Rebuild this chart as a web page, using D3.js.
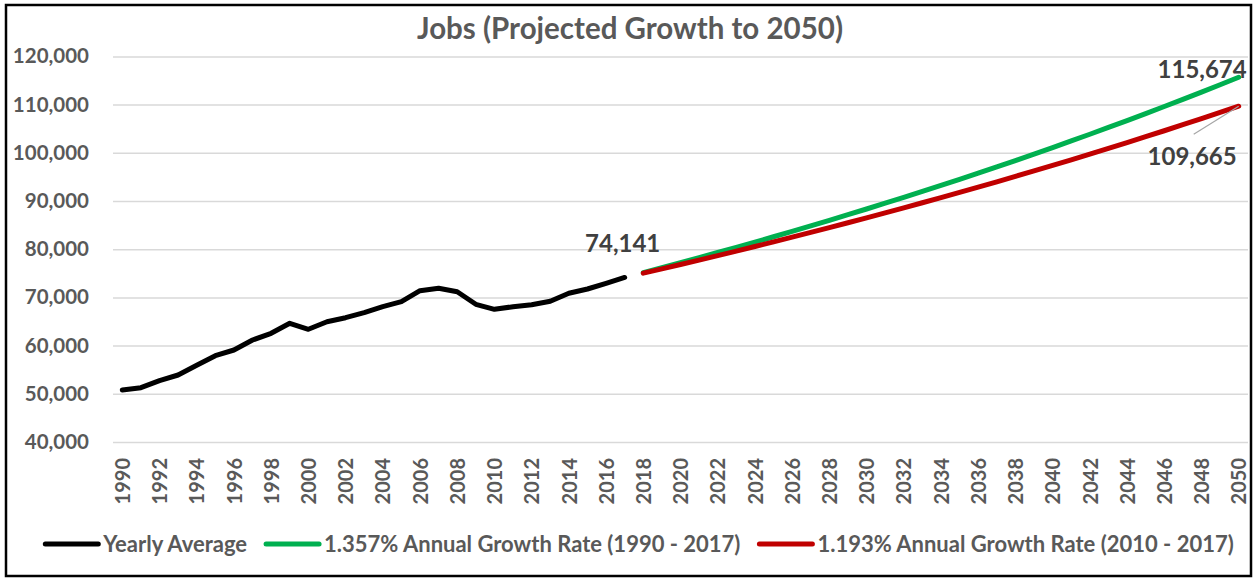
<!DOCTYPE html>
<html>
<head>
<meta charset="utf-8">
<script src="https://cdn.jsdelivr.net/npm/d3@7"></script>
<style>
  body { margin: 0; background: #fff; }
  svg text { font-family: Lato, "Open Sans", sans-serif; font-weight: bold; }
</style>
</head>
<body>
<svg id="chart" width="1255" height="578"></svg>
<script>
// yearly average jobs, 1990 - 2017
var histYears = d3.range(1990, 2018);
var histJobs = [50790, 51270, 52720, 53900, 55910, 57900, 59090, 61160, 62550, 64630,
                63380, 64960, 65790, 66830, 68070, 69110, 71390, 71890, 71180, 68570,
                67530, 68070, 68490, 69190, 70850, 71740, 72930, 74141];
// projections 2018 - 2050
var projYears = d3.range(2018, 2051);
var growthHigh = [75147, 76167, 77201, 78248, 79310, 80386, 81477, 82583, 83703, 84839,
                  85990, 87157, 88340, 89539, 90754, 91985, 93234, 94499, 95781, 97081,
                  98398, 99733, 101087, 102458, 103849, 105258, 106686, 108134, 109601, 111089,
                  112596, 114124, 115674];
var growthLow = [75026, 75921, 76826, 77743, 78670, 79609, 80559, 81520, 82492, 83476,
                 84472, 85480, 86500, 87532, 88576, 89633, 90702, 91784, 92879, 93987,
                 95108, 96243, 97391, 98553, 99729, 100919, 102123, 103341, 104574, 105822,
                 107084, 108362, 109665];
var seriesNames = ["Yearly Average", "1.357% Annual Growth Rate (1990 - 2017)", "1.193% Annual Growth Rate (2010 - 2017)"];
var seriesColors = ["#000000", "#00b050", "#c00000"];
var yTicks = [40000, 50000, 60000, 70000, 80000, 90000, 100000, 110000, 120000];
var allYears = d3.range(1990, 2051);
var xTickYears = allYears.filter(function(d){ return d % 2 === 0; });

var svg = d3.select("#chart");
var fmt = d3.format(",");

// frame
svg.append("rect")
   .attr("x", 6).attr("y", 5)
   .attr("width", 1245).attr("height", 571)
   .style("fill", "none")
   .style("stroke", "#000")
   .style("stroke-width", 2.5);

var plotLeft = 113, plotRight = 1248, plotTop = 56.4, plotBottom = 442;

var x = d3.scalePoint().domain(allYears).range([plotLeft, plotRight]).padding(0.5);
var y = d3.scaleLinear().domain([40000, 120000]).range([plotBottom, plotTop]);

// gridlines + y labels
var yAxis = svg.append("g")
   .attr("transform", "translate(" + plotLeft + ",0)")
   .call(d3.axisLeft(y).tickValues(yTicks).tickSize(-(plotRight - plotLeft)).tickPadding(24).tickFormat(fmt));
yAxis.select(".domain").remove();
yAxis.selectAll(".tick line").style("stroke", "#d9d9d9").style("stroke-width", 1.5);
yAxis.selectAll(".tick text")
   .style("font-size", "20.5px")
   .style("fill", "#595959");

// x labels
var xAxis = svg.append("g")
   .attr("transform", "translate(0," + plotBottom + ")")
   .call(d3.axisBottom(x).tickValues(xTickYears).tickSize(0));
xAxis.select(".domain").remove();
xAxis.selectAll(".tick text")
   .attr("transform", "rotate(-90)")
   .attr("x", -16)
   .attr("y", 0)
   .attr("dy", "0.36em")
   .style("text-anchor", "end")
   .style("font-size", "20px")
   .style("fill", "#595959");

// title
svg.append("text")
   .attr("x", 630).attr("y", 39)
   .style("text-anchor", "middle")
   .style("font-size", "29.5px")
   .style("fill", "#595959")
   .text("Jobs (Projected Growth to 2050)");

var line = d3.line()
   .x(function(d){ return x(d[0]); })
   .y(function(d){ return y(d[1]); });

var series = [
  d3.zip(histYears, histJobs),
  d3.zip(projYears, growthHigh),
  d3.zip(projYears, growthLow)
];
series.forEach(function(s, i){
  svg.append("path")
     .datum(s)
     .attr("d", line)
     .style("fill", "none")
     .style("stroke", seriesColors[i])
     .style("stroke-width", 5)
     .style("stroke-linecap", "round")
     .style("stroke-linejoin", "round");
});

// data labels
var lastHist = series[0][series[0].length - 1];
svg.append("text")
   .attr("x", x(lastHist[0]) - 2).attr("y", y(lastHist[1]) - 25)
   .style("text-anchor", "middle")
   .style("font-size", "24px")
   .style("fill", "#404040")
   .text(fmt(lastHist[1]));

var lastHigh = series[1][series[1].length - 1];
svg.append("text")
   .attr("x", x(lastHigh[0]) + 8).attr("y", y(lastHigh[1]) + 1)
   .style("text-anchor", "end")
   .style("font-size", "24px")
   .style("fill", "#404040")
   .text(fmt(lastHigh[1]));

var lastLow = series[2][series[2].length - 1];
svg.append("line")
   .attr("x1", x(lastLow[0]) - 45).attr("y1", y(lastLow[1]) + 28)
   .attr("x2", x(lastLow[0])).attr("y2", y(lastLow[1]))
   .style("stroke", "#a6a6a6")
   .style("stroke-width", 1.2);
svg.append("text")
   .attr("x", x(lastLow[0]) - 2).attr("y", y(lastLow[1]) + 59)
   .style("text-anchor", "end")
   .style("font-size", "24px")
   .style("fill", "#404040")
   .text(fmt(lastLow[1]));

// legend
var legend = svg.append("g");
var lx = 0;
seriesNames.forEach(function(name, i){
  legend.append("line")
     .attr("x1", lx + 3).attr("x2", lx + 56)
     .attr("y1", 0).attr("y2", 0)
     .style("stroke", seriesColors[i])
     .style("stroke-width", 5)
     .style("stroke-linecap", "round");
  var t = legend.append("text")
     .attr("x", lx + 61).attr("y", 0)
     .attr("dy", "0.35em")
     .style("font-size", "22px")
     .style("fill", "#595959")
     .text(name);
  lx += 61 + t.node().getComputedTextLength() + 16;
});
lx -= 16;
legend.attr("transform", "translate(" + (638 - lx / 2) + ",544)");
</script>
</body>
</html>
